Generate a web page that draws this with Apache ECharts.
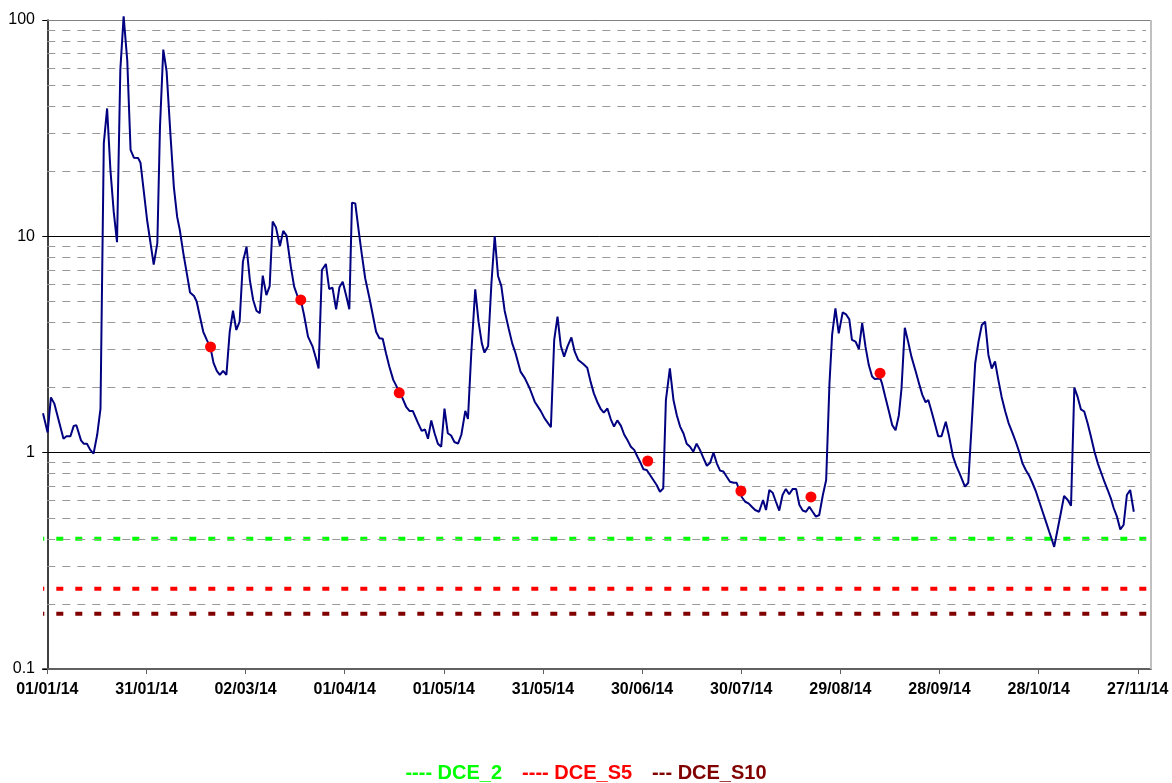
<!DOCTYPE html>
<html>
<head>
<meta charset="utf-8">
<script src="https://cdn.jsdelivr.net/npm/echarts@6/dist/echarts.min.js"></script>
<style>
  html, body { margin: 0; padding: 0; background: #fff; }
  #chart { width: 1172px; height: 783px; }
</style>
</head>
<body>
<div id="chart"></div>
<script>
// x values are days counted from 01/01/14
const tickDays = [0, 30, 60, 90, 120, 150, 180, 210, 240, 270, 300, 330];
const tickLabels = ['01/01/14', '31/01/14', '02/03/14', '01/04/14', '01/05/14', '31/05/14',
  '30/06/14', '30/07/14', '29/08/14', '28/09/14', '28/10/14', '27/11/14'];

const yLabels = [0.1, 1, 10, 100];
const majorGrid = [1, 10, 100];
const minorGrid = [0.2, 0.3, 0.4, 0.5, 0.6, 0.7, 0.8, 0.9, 2, 3, 4, 5, 6, 7, 8, 9,
  20, 30, 40, 50, 60, 70, 80, 90];

const dceLine = [
  [-1.3, 1.52], [0.1, 1.24], [1.1, 1.80], [2.1, 1.69], [4.9, 1.16], [5.8, 1.19], [7.0, 1.19],
  [8.0, 1.33], [8.8, 1.34], [10.2, 1.14], [11.0, 1.10], [12.0, 1.10], [13.0, 1.03], [14.0, 0.99],
  [15.1, 1.21], [16.1, 1.60], [17.1, 26.9], [18.1, 39], [19.1, 20.3], [20.1, 13.0], [21.1, 9.4],
  [22.1, 58.7], [23.1, 104], [24.2, 65], [25.2, 25.1], [26.2, 23.1], [27.5, 23.0], [28.2, 21.9],
  [30.2, 11.9], [32.2, 7.4], [33.3, 9.3], [34.1, 32], [35.1, 73], [36.1, 58], [37.3, 29],
  [38.3, 16.9], [39.3, 12.3], [40.1, 10.7], [41.2, 8.3], [42.4, 6.5], [43.2, 5.5], [44.4, 5.3],
  [45.2, 5.0], [46.2, 4.25], [47.2, 3.62], [48.2, 3.34], [49.4, 3.05], [50.3, 2.6], [51.3, 2.39],
  [52.2, 2.29], [53.2, 2.39], [54.2, 2.29], [55.2, 3.62], [56.2, 4.53], [57.2, 3.69], [58.2, 4.03],
  [59.2, 7.64], [60.3, 8.95], [61.3, 6.28], [62.3, 5.08], [63.3, 4.53], [64.3, 4.41], [65.2, 6.58],
  [66.3, 5.35], [67.3, 5.89], [68.2, 11.7], [69.2, 11.0], [70.4, 9.02], [71.4, 10.6], [72.4, 10.07],
  [73.7, 7.24], [74.7, 5.85], [75.7, 5.30], [76.7, 5.1], [77.7, 4.33], [78.9, 3.44], [80.3, 3.09],
  [81.3, 2.73], [82.1, 2.45], [83.1, 6.99], [84.3, 7.45], [85.3, 5.71], [86.3, 5.79], [87.4, 4.60],
  [88.4, 5.81], [89.4, 6.17], [90.4, 5.35], [91.4, 4.60], [92.2, 14.3], [93.2, 14.2], [94.2, 10.7],
  [95.2, 8.20], [96.2, 6.40], [97.5, 5.17], [98.5, 4.33], [99.5, 3.62], [100.5, 3.38], [101.5, 3.36],
  [102.5, 2.88], [103.5, 2.50], [104.7, 2.17], [106.7, 1.89], [107.6, 1.77], [108.6, 1.63],
  [109.6, 1.56], [110.6, 1.56], [112.1, 1.38], [113.3, 1.26], [114.3, 1.28], [115.2, 1.16],
  [116.2, 1.41], [117.2, 1.23], [118.2, 1.10], [119.2, 1.065], [120.2, 1.60], [121.2, 1.23],
  [122.2, 1.20], [123.2, 1.12], [124.3, 1.10], [125.3, 1.21], [126.5, 1.56], [127.3, 1.43],
  [128.3, 2.88], [129.5, 5.69], [130.5, 4.03], [131.5, 3.20], [132.3, 2.90], [133.4, 3.11],
  [134.4, 6.07], [135.4, 10.04], [136.4, 6.56], [137.4, 5.89], [138.4, 4.53], [139.6, 3.76],
  [140.7, 3.20], [141.7, 2.88], [143.2, 2.37], [144.5, 2.21], [146.0, 1.98], [147.5, 1.72],
  [149.3, 1.56], [150.5, 1.44], [152.4, 1.31], [153.4, 3.32], [154.4, 4.25], [155.4, 3.11],
  [156.4, 2.78], [157.4, 3.09], [158.6, 3.41], [159.6, 2.93], [160.7, 2.68], [162.2, 2.57],
  [163.4, 2.47], [164.4, 2.13], [165.4, 1.88], [166.4, 1.72], [167.4, 1.60], [168.4, 1.53],
  [169.5, 1.60], [170.5, 1.43], [171.5, 1.32], [172.5, 1.41], [173.6, 1.33], [174.6, 1.21],
  [175.6, 1.14], [176.6, 1.065], [177.6, 1.03], [178.6, 0.958], [179.6, 0.893], [180.4, 0.838],
  [181.4, 0.832], [182.4, 0.789], [183.4, 0.748], [184.4, 0.709], [185.4, 0.660], [186.4, 0.684],
  [187.2, 1.75], [188.4, 2.45], [189.5, 1.75], [190.5, 1.49], [191.5, 1.32], [192.5, 1.23],
  [193.5, 1.10], [194.5, 1.065], [195.5, 1.01], [196.5, 1.10], [197.5, 1.03], [198.6, 0.942],
  [199.6, 0.870], [200.6, 0.899], [201.6, 1.00], [202.6, 0.893], [203.6, 0.826], [204.6, 0.818],
  [205.6, 0.774], [206.6, 0.734], [207.7, 0.726], [208.6, 0.726], [210.2, 0.622], [211.2, 0.593],
  [212.2, 0.583], [213.2, 0.562], [214.2, 0.543], [215.4, 0.533], [216.6, 0.604], [217.5, 0.543],
  [218.5, 0.672], [219.5, 0.653], [220.5, 0.593], [221.5, 0.540], [222.5, 0.637], [223.5, 0.680],
  [224.5, 0.642], [225.6, 0.680], [226.6, 0.680], [227.6, 0.573], [228.6, 0.540], [229.6, 0.533],
  [230.6, 0.562], [231.6, 0.533], [232.6, 0.506], [233.6, 0.515], [234.7, 0.637], [235.7, 0.748],
  [236.7, 2.09], [237.5, 3.5], [238.5, 4.65], [239.5, 3.56], [240.7, 4.45], [241.7, 4.36],
  [242.7, 4.13], [243.5, 3.32], [244.6, 3.26], [245.6, 3.01], [246.6, 3.97], [247.6, 3.09],
  [248.6, 2.54], [249.6, 2.25], [250.4, 2.19], [252.1, 2.2], [252.6, 2.09], [253.6, 1.81],
  [254.7, 1.55], [255.7, 1.34], [256.7, 1.27], [257.7, 1.49], [258.5, 1.98], [259.5, 3.78],
  [260.5, 3.26], [261.5, 2.78], [262.8, 2.37], [263.8, 2.09], [264.8, 1.85], [265.8, 1.71],
  [266.6, 1.75], [267.6, 1.55], [268.6, 1.36], [269.6, 1.19], [270.6, 1.19], [271.9, 1.39],
  [272.9, 1.19], [274.1, 0.958], [275.1, 0.867], [276.1, 0.80], [277.7, 0.697], [278.7, 0.726],
  [279.7, 1.32], [280.8, 2.59], [281.8, 3.26], [282.8, 3.89], [283.8, 4.03], [284.8, 2.83],
  [285.8, 2.45], [286.8, 2.64], [287.8, 2.17], [288.8, 1.81], [289.9, 1.55], [290.9, 1.37],
  [292.1, 1.23], [293.1, 1.12], [294.1, 1.01], [295.1, 0.893], [296.1, 0.832], [297.1, 0.785],
  [298.1, 0.726], [299.2, 0.660], [300.2, 0.593], [301.2, 0.533], [302.2, 0.480], [303.2, 0.431],
  [303.9, 0.401], [304.7, 0.367], [305.7, 0.439], [306.7, 0.525], [307.7, 0.631], [308.8, 0.604],
  [309.8, 0.569], [310.8, 2.0], [311.8, 1.81], [312.8, 1.585], [313.8, 1.55], [314.8, 1.37],
  [315.8, 1.19], [316.9, 1.01], [317.9, 0.893], [318.9, 0.81], [319.9, 0.734], [320.9, 0.672],
  [321.9, 0.612], [322.7, 0.555], [323.7, 0.506], [324.7, 0.442], [325.7, 0.463], [326.7, 0.637],
  [327.7, 0.672], [328.8, 0.533]
];

const dcePoints = [
  [49.4, 3.08], [76.7, 5.08], [106.5, 1.89], [181.7, 0.915], [209.9, 0.665], [231.1, 0.624], [252.0, 2.33]
];

const limitNames = ['DCE_2', 'DCE_S5', 'DCE_S10'];
const limitValues = [0.4, 0.235, 0.18];
const limitColors = ['#00ff00', '#ff0000', '#800000'];

const xMin = -1.3;
const xMax = 334;
const font = 'Liberation Sans, Arial, sans-serif';

const chart = echarts.init(document.getElementById('chart'));

const gridLines = [];
minorGrid.forEach(v => gridLines.push([
  { coord: [0, v], lineStyle: { color: '#999999', width: 1, type: [8, 7] } },
  { coord: [xMax - 1.5, v] }
]));
majorGrid.forEach(v => gridLines.push([
  { coord: [0, v], lineStyle: { color: v === 100 ? '#808080' : '#000000', width: 1, type: 'solid' } },
  { coord: [xMax, v] }
]));
gridLines.push([
  { coord: [xMax, 0.1], lineStyle: { color: '#c0c0c0', width: 2, type: 'solid' } },
  { coord: [xMax, 100] }
]);

const limitSeries = limitNames.map((name, i) => ({
  name: name,
  type: 'line',
  data: [[xMin, limitValues[i]], [xMax, limitValues[i]]],
  showSymbol: false,
  silent: true,
  z: 3,
  lineStyle: { color: limitColors[i], width: 4, type: [7, 12], dashOffset: 5.7 }
}));

const legendStyle = c => ({ color: c, fontSize: 20, fontWeight: 'bold', fontFamily: font });

chart.setOption({
  animation: false,
  backgroundColor: '#ffffff',
  grid: { left: 43, right: 21, top: 20, bottom: 114 },
  title: {
    left: 'center',
    top: 758,
    text: '{g|---- DCE_2}{s|}{r|---- DCE_S5}{s|}{d|--- DCE_S10}',
    textStyle: {
      fontFamily: font,
      rich: {
        g: legendStyle(limitColors[0]),
        r: legendStyle(limitColors[1]),
        d: legendStyle(limitColors[2]),
        s: { width: 20 }
      }
    }
  },
  xAxis: {
    type: 'value',
    min: xMin,
    max: xMax,
    axisLine: { onZero: false, lineStyle: { color: '#606060', width: 2 } },
    axisTick: { show: true, customValues: tickDays, length: 5, lineStyle: { color: '#606060', width: 1 } },
    axisLabel: {
      customValues: tickDays,
      formatter: v => tickLabels[tickDays.indexOf(Math.round(v))] || '',
      color: '#000',
      fontFamily: font,
      fontSize: 16,
      fontWeight: 'bold',
      margin: 13
    },
    splitLine: { show: false }
  },
  yAxis: {
    type: 'log',
    logBase: 10,
    min: 0.1,
    max: 100,
    axisLine: { show: true, onZero: true, lineStyle: { color: '#000', width: 1.5 } },
    axisTick: { show: true, length: 5, lineStyle: { color: '#000', width: 1 } },
    axisLabel: {
      color: '#000',
      fontFamily: font,
      fontSize: 16,
      margin: 8,
      formatter: v => {
        const hit = yLabels.find(t => Math.abs(t - v) / t < 1e-6);
        return hit === undefined ? '' : String(hit);
      }
    },
    splitLine: { show: false }
  },
  series: [
    {
      name: 'grid',
      type: 'line',
      data: [],
      silent: true,
      z: 1,
      markLine: {
        silent: true,
        symbol: ['none', 'none'],
        label: { show: false },
        animation: false,
        data: gridLines
      }
    },
    ...limitSeries,
    {
      name: 'DCE',
      type: 'line',
      data: dceLine,
      showSymbol: false,
      clip: false,
      z: 5,
      lineStyle: { color: '#000080', width: 2 }
    },
    {
      name: 'points',
      type: 'scatter',
      data: dcePoints,
      symbol: 'circle',
      symbolSize: 11,
      z: 6,
      itemStyle: { color: '#ff0000', opacity: 1 }
    }
  ]
});
</script>
</body>
</html>
